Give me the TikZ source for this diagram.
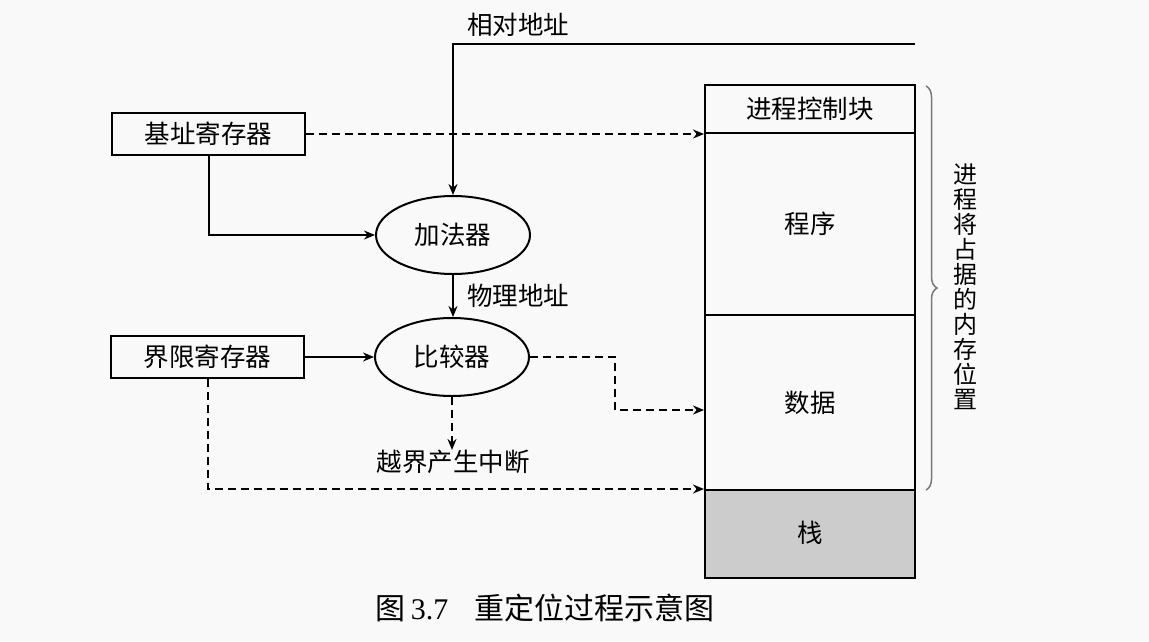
\documentclass[tikz,border=0pt]{standalone}
\usepackage{fontspec}
\setmainfont{Noto Sans CJK SC}
\newfontfamily\capserif{Liberation Serif}
\usetikzlibrary{arrows.meta,shapes.geometric,decorations.pathreplacing}
\definecolor{bg}{RGB}{249,249,249}
\definecolor{stackgray}{RGB}{204,204,204}
\definecolor{bracegray}{RGB}{120,120,120}
\begin{document}
\begin{tikzpicture}[x=1pt,y=-1pt,
  every node/.style={font=\fontsize{25.5}{28}\selectfont},
  regbox/.style={draw,line width=2pt,minimum width=193,minimum height=42,inner sep=0pt},
  oval/.style={draw,ellipse,line width=2pt,minimum width=154,minimum height=78,inner sep=0pt},
  memcell/.style={draw,line width=2pt,minimum width=210,inner sep=0pt},
  conn/.style={line width=2pt,-{Stealth[length=11pt,width=9pt]}},
  dconn/.style={conn,dash pattern=on 8pt off 5pt},
  lbl/.style={inner sep=0pt}
]
\fill[bg] (0,0) rectangle (1149,641);
\useasboundingbox (0,0) rectangle (1149,641);

% memory column
\node[memcell,minimum height=48] (pcb) at (810,109) {进程控制块};
\node[memcell,minimum height=182] (prog) at (810,224) {程序};
\node[memcell,minimum height=175] (data) at (810,402.5) {数据};
\node[memcell,minimum height=88,fill=stackgray] (stack) at (810,534) {\raisebox{4pt}{栈}};

% registers
\node[regbox] (base) at (208.5,134) {基址寄存器};
\node[regbox] (limit) at (207.5,357) {界限寄存器};

% adder and comparator
\node[oval] (adder) at (453,235) {加法器};
\node[oval] (cmp) at (452,357) {比较器};

% labels
\coordinate (relstart) at (915,44);
\node[lbl,anchor=west] (rel) at (467,25) {相对地址};
\node[lbl,anchor=west] (phys) at (467,296) {物理地址};
\node[lbl] (intr) at (453,462) {越界产生中断};

% connectors
\draw[conn] (relstart) -| (adder.north);
\draw[dconn] (base.east) -- (base.east -| prog.north west);
\draw[conn] (base.south) |- (adder.west);
\draw[conn] (adder.south) -- (adder.south |- cmp.north);
\draw[conn] (limit.east) -- (cmp.west);
\draw[dconn] (cmp.east) -- (615,357) |- ([yshift=-7.5pt]data.west);
\draw[dconn] (cmp.south) -- (cmp.south |- intr.north);
\draw[dconn] (limit.south) |- (stack.north west);

% brace and vertical text
\draw[bracegray,line width=1.5pt,decorate,decoration={brace,amplitude=11pt}]
  (926,86) -- (926,490);
\node[lbl,align=center,font=\fontsize{24}{25}\selectfont] (vtext) at (965,287)
  {进\\程\\将\\占\\据\\的\\内\\存\\位\\置};

% caption
\node[lbl,font=\fontsize{30}{32}\selectfont] (cap) at (545,608)
  {图\,{\capserif 3.7}\hspace{26pt}重定位过程示意图};
\end{tikzpicture}
\end{document}
